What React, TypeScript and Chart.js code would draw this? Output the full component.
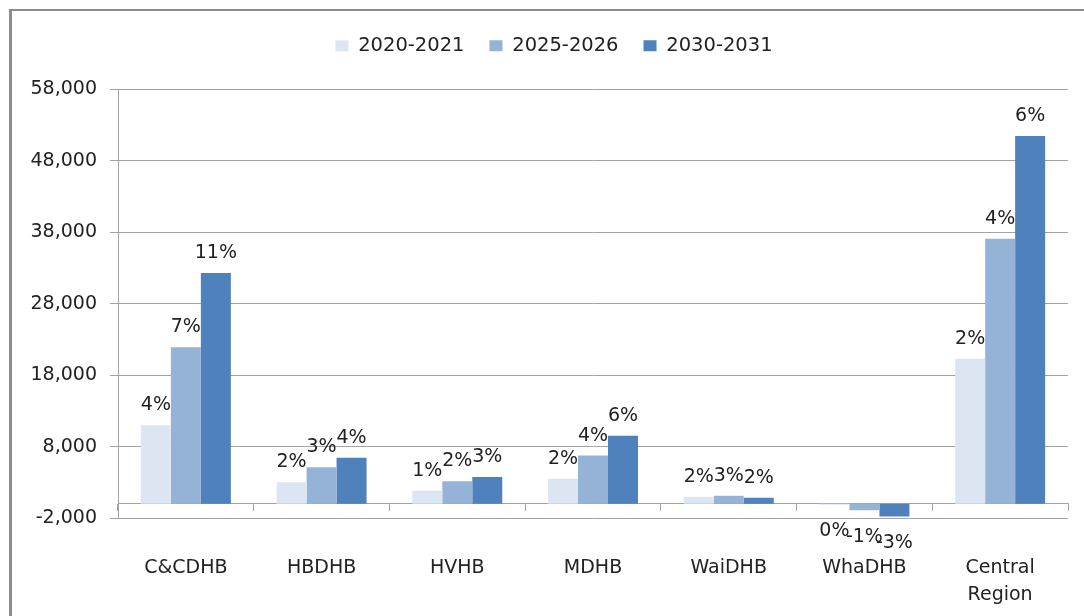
import React, { useEffect, useRef } from 'react';
import { Chart, registerables } from 'chart.js';

Chart.register(...registerables);

// ---- data ----
const categories: (string | string[])[] = ['C&CDHB', 'HBDHB', 'HVHB', 'MDHB', 'WaiDHB', 'WhaDHB', ['Central', 'Region']];
const seriesNames = ['2020-2021', '2025-2026', '2030-2031'];
const values2020 = [11000, 3000, 1800, 3500, 950, -150, 20300];
const values2025 = [21900, 5100, 3150, 6750, 1100, -900, 37100];
const values2030 = [32300, 6450, 3750, 9500, 850, -1800, 51500];
const pct2020 = ['4%', '2%', '1%', '2%', '2%', '0%', '2%'];
const pct2025 = ['7%', '3%', '2%', '4%', '3%', '-1%', '4%'];
const pct2030 = ['11%', '4%', '3%', '6%', '2%', '-3%', '6%'];
const yTickValues = [-2000, 8000, 18000, 28000, 38000, 48000, 58000];

// ---- styles ----
const seriesColors = ['#dce6f2', '#95b3d7', '#4f81bd'];
const gridColor = '#a3a3a3';
const textColor = '#222222';
const FONT = '"DejaVu Sans", sans-serif';

const pctSets = [pct2020, pct2025, pct2030];

const pctLabelPlugin = {
  id: 'pctLabels',
  afterDatasetsDraw(chart: any) {
    const ctx = chart.ctx;
    ctx.save();
    ctx.font = `19px ${FONT}`;
    ctx.fillStyle = textColor;
    ctx.textAlign = 'center';
    chart.data.datasets.forEach((ds: any, i: number) => {
      const meta = chart.getDatasetMeta(i);
      meta.data.forEach((bar: any, j: number) => {
        const v = ds.data[j];
        const txt = pctSets[i][j];
        if (v >= 0) {
          ctx.textBaseline = 'alphabetic';
          ctx.fillText(txt, bar.x, bar.y - 15);
        } else {
          ctx.textBaseline = 'top';
          ctx.fillText(txt, bar.x, bar.y + 17);
        }
      });
    });
    ctx.restore();
  },
};

const legendSpacingPlugin = {
  id: 'legendSpacing',
  beforeInit(chart: any) {
    const legend = chart.legend;
    if (!legend) return;
    const origFit = legend.fit;
    legend.fit = function () {
      origFit.call(this);
      this.height += 24;
    };
  },
  afterLayout(chart: any) {
    if (chart.legend) {
      chart.legend.left += 28;
    }
  },
};

export default function App() {
  const canvasRef = useRef<HTMLCanvasElement | null>(null);

  useEffect(() => {
    if (!canvasRef.current) return;
    Chart.defaults.font.family = FONT;
    const datasets = [values2020, values2025, values2030].map((vals, i) => ({
      label: seriesNames[i],
      data: vals,
      backgroundColor: seriesColors[i],
      borderWidth: 0,
      categoryPercentage: 0.663,
      barPercentage: 1.0,
    }));
    const chart = new Chart(canvasRef.current, {
      type: 'bar',
      data: { labels: categories as any, datasets },
      options: {
        responsive: false,
        animation: false,
        devicePixelRatio: 1,
        layout: { padding: { left: 0, right: 16, top: 0, bottom: 98 } },
        plugins: {
          tooltip: { enabled: false },
          legend: {
            position: 'top',
            align: 'center',
            labels: {
              boxWidth: 13,
              boxHeight: 11,
              padding: 25,
              color: textColor,
              font: { size: 19.5, family: FONT },
            },
          },
        },
        scales: {
          x: {
            position: { y: 0 } as any,
            offset: true,
            grid: {
              offset: true,
              drawOnChartArea: false,
              drawTicks: true,
              tickLength: 7,
              color: gridColor,
            },
            border: { display: true, color: gridColor, width: 1 },
            ticks: {
              padding: 44,
              color: textColor,
              maxRotation: 0,
              autoSkip: false,
              font: { size: 19, family: FONT, lineHeight: 1.4 },
            },
          },
          y: {
            min: -2000,
            max: 58000,
            afterBuildTicks: (s: any) => {
              s.ticks = yTickValues.map((v) => ({ value: v }));
            },
            ticks: {
              padding: 13,
              color: textColor,
              font: { size: 19, family: FONT },
              callback: (v: any) => Number(v).toLocaleString('en-US'),
            },
            grid: { color: gridColor, tickLength: 8, drawTicks: true },
            border: { display: true, color: gridColor, width: 1 },
            afterFit: (s: any) => {
              s.width = 106;
            },
          },
        },
      },
      plugins: [pctLabelPlugin, legendSpacingPlugin],
    } as any);
    return () => chart.destroy();
  }, []);

  return (
    <div
      style={{
        position: 'fixed',
        left: 9,
        top: 9,
        width: 1075,
        height: 607,
        borderLeft: '3px solid #8c8c8c',
        borderTop: '2px solid #8c8c8c',
        background: '#ffffff',
        overflow: 'hidden',
      }}
    >
      <canvas ref={canvasRef} width={1072} height={605} style={{ display: 'block', width: 1072, height: 605 }} />
    </div>
  );
}
